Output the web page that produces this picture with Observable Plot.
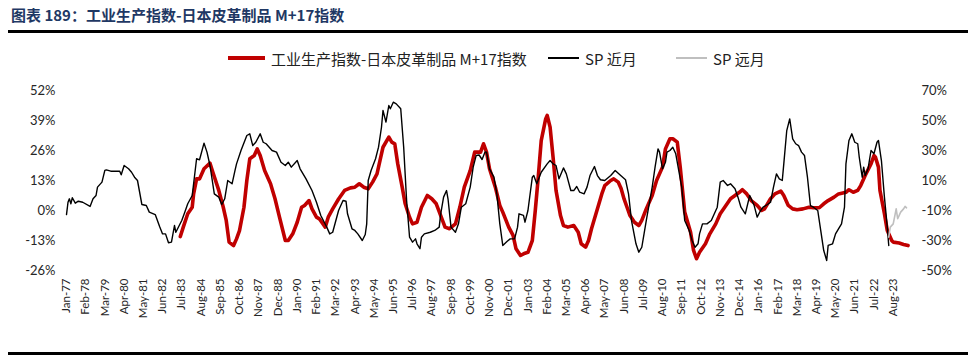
<!DOCTYPE html>
<html><head><meta charset="utf-8">
<script src="https://cdn.jsdelivr.net/npm/d3@7"></script>
<script src="https://cdn.jsdelivr.net/npm/@observablehq/plot@0.6"></script>
<style>
body{margin:0;background:#fff;}
#wrap{position:relative;width:977px;height:358px;overflow:hidden;background:#fff;}
#title{position:absolute;left:11px;top:5px;font:bold 15px "Noto Sans CJK SC",sans-serif;color:#1F3864;white-space:nowrap;line-height:20px;}
.rule{position:absolute;left:8px;width:960px;background:#000;}
#legend{position:absolute;top:47px;left:0;width:977px;height:22px;font:15px "Noto Sans CJK SC",sans-serif;color:#222;}
.item{position:absolute;top:0;height:22px;display:flex;align-items:center;white-space:nowrap;}
.sw{display:inline-block;margin-right:6px;}
#chart{position:absolute;left:0;top:70px;}
</style></head>
<body>
<div id="wrap">
  <div id="title">图表 189：工业生产指数-日本皮革制品 M+17指数</div>
  <div class="rule" style="top:30px;height:3px"></div>
  <div id="legend"></div>
  <div id="chart"></div>
  <div class="rule" style="top:352px;height:3px"></div>
</div>
<script>
// ---- data ----
const seriesNames = ["工业生产指数-日本皮革制品 M+17指数", "SP 近月", "SP 远月"];

const xTickLabels = ["Jan-77","Feb-78","Mar-79","Apr-80","May-81","Jun-82","Jul-83","Aug-84","Sep-85","Oct-86","Nov-87","Dec-88","Jan-90","Feb-91","Mar-92","Apr-93","May-94","Jun-95","Jul-96","Aug-97","Sep-98","Oct-99","Nov-00","Dec-01","Jan-03","Feb-04","Mar-05","Apr-06","May-07","Jun-08","Jul-09","Aug-10","Sep-11","Oct-12","Nov-13","Dec-14","Jan-16","Feb-17","Mar-18","Apr-19","May-20","Jun-21","Jul-22","Aug-23"];
const leftTicks = [-26, -13, 0, 13, 26, 39, 52];
const rightTicks = [-50, -30, -10, 10, 30, 50, 70];

// 工业生产指数-日本皮革制品 M+17指数 (left axis, %)
const redSeries = [
["1983-06",-11.3],["1983-08",-7.2],["1983-11",-1.4],["1984-02",1.4],["1984-03",7.2],["1984-05",13.7],["1984-07",13.7],["1984-10",18.1],
["1985-02",20.5],["1985-04",16.6],["1985-08",8.7],["1985-11",1.4],["1986-01",-4.3],["1986-03",-13.7],["1986-06",-15.2],["1986-08",-12.3],
["1986-10",-8.7],["1987-01",1.4],["1987-03",13],["1987-05",22.4],["1987-08",23.8],["1987-10",26.7],["1987-12",23.8],["1988-03",17.3],
["1988-07",11.6],["1988-10",5.1],["1989-01",-2.9],["1989-05",-13],["1989-07",-13],["1989-10",-10.1],["1990-01",-5.1],["1990-04",1.4],
["1990-06",2.2],["1990-09",4.3],["1990-11",0.7],["1991-02",-2.9],["1991-04",-3.6],["1991-08",-7.2],["1991-10",-2.9],["1992-01",0.7],
["1992-05",5],["1992-09",8.7],["1993-01",9.8],["1993-04",10.1],["1993-07",11.6],["1993-10",10.1],["1994-01",9.4],["1994-04",12.3],
["1994-07",15.9],["1994-09",21.7],["1994-11",27.4],["1995-03",31.8],["1995-05",29.6],["1995-07",28.9],["1995-09",20.2],["1995-12",10.1],
["1996-02",2.9],["1996-05",-2.9],["1996-07",-5.8],["1996-10",-5.1],["1997-01",1.4],["1997-05",6.5],["1997-08",5.1],["1997-11",2.9],
["1998-02",-2.2],["1998-05",-7.2],["1998-08",-7.9],["1998-12",-5.8],["1999-03",1.4],["1999-06",10.1],["1999-10",17.3],["2000-01",25.3],
["2000-05",25.3],["2000-07",28.9],["2000-09",25.3],["2000-11",18.1],["2001-03",10.1],["2001-06",2.2],["2001-08",-0.7],["2001-12",-7.2],
["2002-03",-10.8],["2002-05",-16.6],["2002-08",-19.5],["2002-11",-18.5],["2003-01",-18.1],["2003-04",-13],["2003-06",0],["2003-08",14.4],
["2003-10",30.3],["2004-01",39.7],["2004-02",41.2],["2004-04",36.1],["2004-06",23.1],["2004-08",8.7],["2004-11",-2.2],["2005-01",-6.5],
["2005-04",-7.2],["2005-08",-6.5],["2005-11",-9.4],["2006-01",-14.4],["2006-04",-15.9],["2006-06",-13],["2006-08",-7.9],["2006-10",-3.6],
["2007-01",2.9],["2007-03",7.2],["2007-05",10.8],["2007-09",13],["2007-11",13.7],["2008-02",12.3],["2008-04",9.5],["2008-06",5],
["2008-08",1.4],["2008-10",-2.2],["2009-01",-5.1],["2009-04",-6.5],["2009-06",-4.3],["2009-09",0.7],["2010-01",6.5],["2010-04",13],
["2010-08",18.8],["2010-10",26.7],["2011-01",31.1],["2011-03",31.1],["2011-06",29.6],["2011-08",18.8],["2011-11",-0.7],["2012-03",-9.4],
["2012-05",-17.3],["2012-07",-20.9],["2012-09",-18.1],["2013-01",-14.4],["2013-04",-10.1],["2013-08",-5.8],["2013-11",-1.4],["2014-02",1.4],
["2014-06",5.1],["2014-09",6.5],["2014-12",7.9],["2015-02",9],["2015-05",7.2],["2015-08",4.3],["2015-12",2.2],["2016-03",0],
["2016-05",0.7],["2016-09",5.1],["2016-12",7.2],["2017-04",8.4],["2017-06",6.5],["2017-09",2.2],["2017-12",0.7],["2018-03",0.3],
["2018-07",0.7],["2018-11",1.4],["2019-02",1.2],["2019-06",1.2],["2019-09",2.9],["2019-12",4.3],["2020-04",5.8],["2020-07",7.2],
["2020-12",7.9],["2021-02",9],["2021-05",7.9],["2021-08",8.7],["2021-10",10.8],["2022-01",15.2],["2022-05",20.2],["2022-07",23.8],
["2022-08",23.1],["2022-10",18.8],["2022-11",8.7],["2023-02",-1.4],["2023-04",-8.7],["2023-07",-13],["2023-08",-13.7],["2023-12",-14.1],
["2024-03",-14.7],["2024-06",-15.2]
];

// SP 近月 (right axis, %)
const spNear = [
["1977-01",-12.7],["1977-02",-4.5],["1977-03",-2.2],["1977-04",-5.5],["1977-05",-1.5],["1977-07",-5.1],["1977-09",-3.8],["1977-12",-4.5],
["1978-05",-7.3],["1978-07",-2.2],["1978-09",0],["1978-10",5.6],["1979-01",8.9],["1979-03",16.7],["1979-04",17.1],["1979-07",16.2],
["1980-01",16.2],["1980-02",13.8],["1980-04",20],["1980-07",17.8],["1980-09",15.5],["1980-11",12.2],["1981-01",10],["1981-04",-6],
["1981-07",-6.7],["1981-09",-11.1],["1982-01",-12.7],["1982-04",-20.7],["1982-06",-25.6],["1982-08",-25.6],["1982-10",-31.5],["1982-12",-31.1],
["1983-02",-20],["1983-03",-24.5],["1983-07",-16.7],["1983-09",-11.1],["1983-11",-5.5],["1984-02",0],["1984-05",24.5],["1984-07",23.8],
["1984-10",34.9],["1984-12",28.9],["1985-02",20],["1985-05",1.1],["1985-08",-1.1],["1985-10",-6],["1985-12",-2.2],["1986-02",10],
["1986-05",7.8],["1986-07",16.7],["1986-08",21.1],["1986-11",30],["1987-03",40],["1987-05",41.1],["1987-07",33.3],["1987-09",35.5],
["1987-12",41.1],["1988-02",35.5],["1988-04",34.5],["1988-08",30],["1988-11",28.9],["1989-02",22.2],["1989-05",20],["1989-07",22.2],
["1989-09",18.9],["1990-01",23.3],["1990-03",17.8],["1990-07",11.1],["1990-11",3.3],["1991-02",-4.5],["1991-05",-13.3],["1991-09",-21.1],
["1991-11",-25.6],["1992-01",-24.5],["1992-05",-10],["1992-08",-3.3],["1992-10",-3.8],["1992-11",-12.2],["1993-02",-22.2],["1993-04",-23.3],
["1993-06",-25.6],["1993-09",-30],["1993-11",-26],["1993-12",-18.9],["1994-01",10],["1994-03",16.7],["1994-06",24.5],["1994-08",32.2],
["1994-10",45.5],["1994-11",56.7],["1995-01",48.9],["1995-03",60],["1995-04",57.8],["1995-06",62.2],["1995-08",61.1],["1995-11",57.8],
["1996-01",32.2],["1996-03",-3.3],["1996-05",-27.8],["1996-07",-31.1],["1996-09",-28.9],["1996-10",-32.2],["1996-12",-35.5],["1997-01",-27.8],
["1997-03",-25.6],["1997-07",-24.5],["1997-10",-23.3],["1998-01",-21.1],["1998-02",-12.2],["1998-04",-1.1],["1998-06",3.3],["1998-07",-2.2],
["1998-09",-21.1],["1998-12",-24.5],["1999-02",-18.9],["1999-04",-7.8],["1999-07",-5.5],["1999-10",5.6],["1999-12",18.9],["2000-02",26.7],
["2000-04",27],["2000-06",24],["2000-08",29],["2000-09",28.9],["2000-11",17.8],["2001-02",12.2],["2001-04",1.1],["2001-06",-18.9],
["2001-08",-33.3],["2001-11",-30.5],["2002-01",-28.9],["2002-04",-28.9],["2002-06",-21.1],["2002-07",-12.2],["2002-10",-13.3],["2002-11",-17.8],
["2003-01",-10],["2003-04",12.2],["2003-05",13.3],["2003-07",7.8],["2003-10",15.5],["2004-02",21.1],["2004-04",23.3],["2004-06",21.1],
["2004-08",20],["2004-10",11.1],["2005-01",18.4],["2005-03",14.4],["2005-06",3.3],["2005-08",3.3],["2005-10",6],["2005-12",2.2],
["2006-03",1.1],["2006-05",5.6],["2006-07",13.3],["2006-10",19.3],["2006-12",13.3],["2007-02",10.5],["2007-05",10],["2007-09",13.3],
["2007-12",16.7],["2008-03",14],["2008-07",10.5],["2008-09",1.1],["2008-11",-16.7],["2009-02",-32.2],["2009-04",-37.8],["2009-06",-34.5],
["2009-09",-16.7],["2010-01",5.6],["2010-03",18.9],["2010-05",31.1],["2010-06",28.9],["2010-08",17.8],["2010-10",22.2],["2010-11",28.9],
["2011-01",30],["2011-03",32.2],["2011-05",27.8],["2011-07",16.7],["2011-09",5.6],["2011-11",-16.7],["2012-02",-23.3],["2012-04",-30],
["2012-06",-34.5],["2012-08",-32.2],["2012-09",-25.6],["2012-11",-18.9],["2013-02",-18.9],["2013-05",-16.7],["2013-09",-7.8],["2013-11",8.9],
["2014-01",10],["2014-04",6.7],["2014-06",7.8],["2014-09",4.5],["2014-11",-1.1],["2015-01",-7.8],["2015-04",-12.2],["2015-07",0],
["2015-10",-6.7],["2015-12",-14.4],["2016-02",-10.5],["2016-04",-7.8],["2016-07",-6],["2016-09",-4.5],["2016-11",5.6],["2017-01",14.4],
["2017-03",11.1],["2017-05",10],["2017-06",21.1],["2017-08",43.3],["2017-10",51.1],["2017-12",37.8],["2018-02",34.5],["2018-04",33.3],
["2018-06",28.9],["2018-08",26.7],["2018-10",12.2],["2018-12",-6.7],["2019-02",-7.8],["2019-05",-10],["2019-07",-23.3],["2019-09",-36.7],
["2019-11",-43.3],["2019-12",-33.3],["2020-03",-32.2],["2020-05",-25.6],["2020-07",-22.2],["2020-09",-18.9],["2020-11",-7.8],["2020-12",21.1],
["2021-02",36.7],["2021-04",41.1],["2021-06",35.5],["2021-08",34.5],["2021-09",25.5],["2021-11",12.2],["2021-12",18.9],["2022-01",13.3],
["2022-03",17.8],["2022-05",30],["2022-07",27.8],["2022-09",35.5],["2022-10",36.7],["2022-12",23.3],["2023-02",-1.1],["2023-04",-21.1],
["2023-05",-33.3]
];

// SP 远月 (right axis, %)
const spFar = [
["2023-05",-27.8],["2023-06",-21.1],["2023-08",-18.9],["2023-10",-8.9],["2023-11",-15.5],["2024-01",-11.1],["2024-03",-8.9],["2024-04",-7.3],["2024-05",-8.2]
];

const colors = ["#C00000", "#000000", "#BFBFBF"];
const widths = [3.6, 1.4, 1.6];

// ---- build ----
const parse = d3.utcParse("%Y-%m");
const parseTick = d3.utcParse("%b-%y");
const rows = arr => arr.map(([d, v]) => ({date: parse(d), v}));
// right axis (-50%..70%) shares the frame with left axis (-26%..52%)
const toLeft = r => (r + 10) * 0.65;
const fromLeft = l => l / 0.65 - 10;

const chart = Plot.plot({
  width: 977,
  height: 280,
  marginTop: 20,
  marginBottom: 80,
  marginLeft: 66,
  marginRight: 68,
  style: {fontFamily: "Lato, 'DejaVu Sans', sans-serif", color: "#262626", background: "transparent", overflow: "visible"},
  x: {type: "utc", domain: [parse("1977-01"), parse("2024-07")]},
  y: {domain: [leftTicks[0], leftTicks[leftTicks.length - 1]]},
  marks: [
    Plot.axisX({ticks: xTickLabels.map(parseTick), tickFormat: d3.utcFormat("%b-%y"), tickRotate: -90, tickSize: 0, tickPadding: 8, fontSize: 11.5, label: null}),
    Plot.axisY({anchor: "left", ticks: leftTicks, tickFormat: d => d + "%", tickSize: 0, tickPadding: 11, fontSize: 13, label: null}),
    Plot.axisY({anchor: "right", ticks: rightTicks.map(toLeft), tickFormat: d => Math.round(fromLeft(d)) + "%", tickSize: 0, tickPadding: 12, fontSize: 13, label: null}),
    Plot.line(rows(redSeries), {x: "date", y: "v", stroke: colors[0], strokeWidth: widths[0], strokeLinejoin: "round"}),
    Plot.line(rows(spNear), {x: "date", y: d => toLeft(d.v), stroke: colors[1], strokeWidth: widths[1], strokeLinejoin: "round"}),
    Plot.line(rows(spFar), {x: "date", y: d => toLeft(d.v), stroke: colors[2], strokeWidth: widths[2], strokeLinejoin: "round"})
  ]
});
document.getElementById("chart").appendChild(chart);

// legend
const legendPos = [[228, 37], [548, 31], [676, 31]];
const legend = document.getElementById("legend");
seriesNames.forEach((name, i) => {
  const item = document.createElement("div");
  item.className = "item";
  item.style.left = legendPos[i][0] + "px";
  const sw = document.createElement("span");
  sw.className = "sw";
  sw.style.width = legendPos[i][1] + "px";
  sw.style.height = widths[i] + "px";
  sw.style.background = colors[i];
  item.appendChild(sw);
  const t = document.createElement("span");
  t.textContent = name;
  item.appendChild(t);
  legend.appendChild(item);
});
</script>
</body></html>
